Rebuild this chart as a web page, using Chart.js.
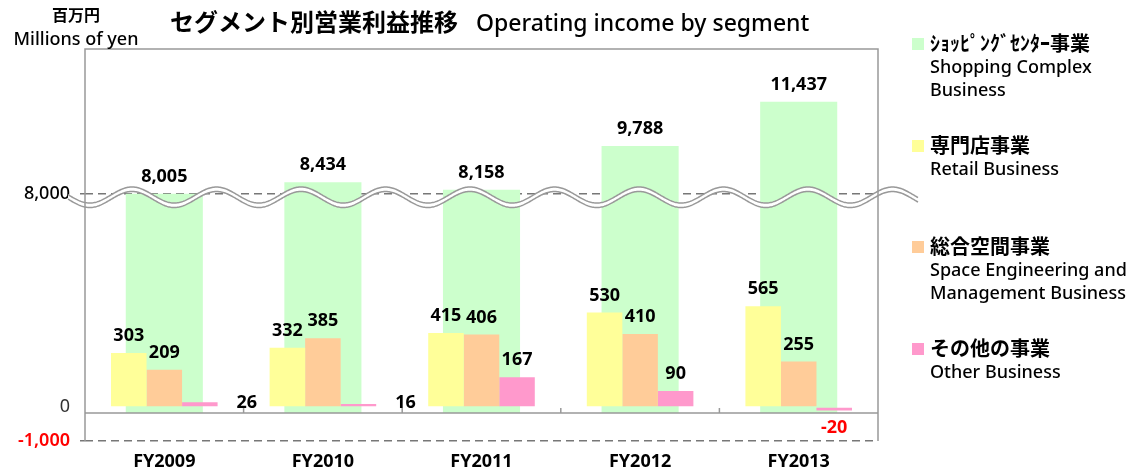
<!DOCTYPE html>
<html lang="ja">
<head>
<meta charset="utf-8">
<title>セグメント別営業利益推移</title>
<script src="https://cdn.jsdelivr.net/npm/chart.js@4.4.1/dist/chart.umd.min.js"></script>
<style>
  html, body { margin: 0; padding: 0; background: #fff; }
  body {
    width: 1147px; height: 472px; position: relative; overflow: hidden;
    font-family: "Noto Sans", "Noto Sans CJK JP", sans-serif; color: #000;
  }
  #wrap { position: absolute; left: 0; top: 0; width: 1147px; height: 472px; }
  .unit { position: absolute; left: 0; top: 2px; width: 152px; text-align: center; }
  .unit .ja { font-family: "Noto Sans CJK JP"; font-weight: 700; font-size: 16px; line-height: 24px; }
  .unit .en { font-size: 18px; line-height: 24px; font-weight: 500; }
  .title { position: absolute; left: 170px; top: 3px; white-space: nowrap; line-height: 36px; }
  .title .ja { font-family: "Noto Sans CJK JP"; font-weight: 700; font-size: 24px; }
  .title .en { font-size: 23px; margin-left: 18px; font-weight: 500; }
  #legend { position: absolute; left: 912px; top: 31px; }
  .item { position: relative; height: 101.5px; padding-left: 18px; }
  .item .box { position: absolute; left: 0; top: 7px; width: 12px; height: 12px; }
  .item .ja { font-family: "Noto Sans CJK JP"; font-weight: 700; font-size: 20px; line-height: 24px; white-space: nowrap; }
  .item .en { font-size: 18px; line-height: 22.5px; white-space: pre-line; font-weight: 500; }
</style>
</head>
<body>
<div id="wrap"><canvas id="chart"></canvas></div>
<div class="unit"><div class="ja">百万円</div><div class="en">Millions of yen</div></div>
<div class="title"><span class="ja">セグメント別営業利益推移</span><span class="en">Operating income by segment</span></div>
<div id="legend"></div>

<script>
// データ
const categories = ['FY2009', 'FY2010', 'FY2011', 'FY2012', 'FY2013'];
const shoppingComplex = [8005, 8434, 8158, 9788, 11437];
const retail = [303, 332, 415, 530, 565];
const spaceEngineering = [209, 385, 406, 410, 255];
const other = [26, 16, 167, 90, -20];
const yTicks = [-1000, 0, 8000];

const seriesJa = ['ｼｮｯﾋﾟﾝｸﾞｾﾝﾀｰ事業', '専門店事業', '総合空間事業', 'その他の事業'];
const seriesEn = ['Shopping Complex\nBusiness', 'Retail Business', 'Space Engineering and\nManagement Business', 'Other Business'];
const seriesColors = ['#ccffcc', '#ffff99', '#ffcc99', '#ff99cc'];

// 軸の切れ目
const BREAK_VALUE = 8000;
const AXIS_FLOOR = -34;

// 凡例（HTML）
const legendEl = document.getElementById('legend');
seriesJa.forEach((name, i) => {
  const item = document.createElement('div');
  item.className = 'item';
  item.innerHTML = '<span class="box" style="background:' + seriesColors[i] + '"></span>' +
    '<div class="ja">' + name + '</div><div class="en">' + seriesEn[i] + '</div>';
  legendEl.appendChild(item);
});

// 切れ目付きの縦軸（値 → 下端からの割合を区分線形で対応）
class BrokenLinearScale extends Chart.LinearScale {
  _frac(value) {
    const pts = this.options.breaks;
    if (value <= pts[0].value) return pts[0].at;
    for (let i = 1; i < pts.length; i++) {
      const a = pts[i - 1], b = pts[i];
      if (value <= b.value) {
        return a.at + (value - a.value) / (b.value - a.value) * (b.at - a.at);
      }
    }
    return pts[pts.length - 1].at;
  }
  getPixelForValue(value) {
    return this.bottom - this._frac(value) * (this.bottom - this.top);
  }
  getValueForPixel(pixel) {
    const f = (this.bottom - pixel) / (this.bottom - this.top);
    const pts = this.options.breaks;
    for (let i = 1; i < pts.length; i++) {
      const a = pts[i - 1], b = pts[i];
      if (f <= b.at) return a.value + (f - a.at) / (b.at - a.at) * (b.value - a.value);
    }
    return pts[pts.length - 1].value;
  }
}
BrokenLinearScale.id = 'brokenLinear';
BrokenLinearScale.defaults = Chart.LinearScale.defaults;
Chart.register(BrokenLinearScale);

// 波線・枠線
const breakFrame = {
  id: 'breakFrame',
  afterDatasetsDraw(chart) {
    const { ctx, chartArea: area, scales } = chart;
    const y = scales.y, x = scales.x;
    const yBreak = y.getPixelForValue(BREAK_VALUE) + 1;
    const amp = 8, period = 84.5, gap = 4.5, phase = 47;
    const x0 = area.left - 17, x1 = area.right + 40;
    const wave = (px) => yBreak - amp * Math.cos(2 * Math.PI * (px - area.left - phase) / period);

    ctx.save();
    ctx.beginPath();
    for (let px = x0; px <= x1; px++) {
      if (px === x0) ctx.moveTo(px, wave(px)); else ctx.lineTo(px, wave(px));
    }
    for (let px = x1; px >= x0; px--) ctx.lineTo(px, wave(px) + gap);
    ctx.closePath();
    ctx.fillStyle = '#fff';
    ctx.fill();

    ctx.strokeStyle = '#999';
    ctx.lineWidth = 1.5;
    [0, gap].forEach(off => {
      ctx.beginPath();
      for (let px = x0; px <= x1; px++) {
        if (px === x0) ctx.moveTo(px, wave(px) + off); else ctx.lineTo(px, wave(px) + off);
      }
      ctx.stroke();
    });

    // 枠
    ctx.beginPath();
    ctx.moveTo(area.left, area.bottom);
    ctx.lineTo(area.left, area.top);
    ctx.lineTo(area.right, area.top);
    ctx.lineTo(area.right, area.bottom);
    ctx.stroke();

    // ゼロ付近の横軸線と目盛
    const yFloor = y.getPixelForValue(AXIS_FLOOR);
    ctx.beginPath();
    ctx.moveTo(area.left, yFloor);
    ctx.lineTo(area.right, yFloor);
    for (let i = 1; i < categories.length; i++) {
      const bx = (x.getPixelForValue(i - 1) + x.getPixelForValue(i)) / 2;
      ctx.moveTo(bx, yFloor);
      ctx.lineTo(bx, yFloor - 5);
    }
    ctx.stroke();
    ctx.restore();
  }
};

// 値ラベル
const valueLabels = {
  id: 'valueLabels',
  afterDatasetsDraw(chart) {
    const ctx = chart.ctx;
    ctx.save();
    ctx.font = 'bold 18px "Noto Sans"';
    ctx.textAlign = 'center';
    ctx.textBaseline = 'middle';
    chart.data.datasets.forEach((ds, i) => {
      const meta = chart.getDatasetMeta(i);
      meta.data.forEach((bar, j) => {
        const v = ds.data[j];
        let lx = bar.x, ly = Math.min(bar.y, bar.base) - 17;
        ctx.fillStyle = '#000';
        if (v < 0) {
          ly = bar.base + 20;
          ctx.fillStyle = '#ff0000';
        } else if (v < 50) {
          lx = bar.x + 47;
          ly = bar.base - 3;
        }
        ctx.fillText(v.toLocaleString('en-US'), lx, ly);
      });
    });
    ctx.restore();
  }
};

const ctx = document.getElementById('chart');
new Chart(ctx, {
  type: 'bar',
  data: {
    labels: categories,
    datasets: [{
      label: seriesJa[0],
      data: shoppingComplex,
      backgroundColor: seriesColors[0],
      grouped: false,
      base: AXIS_FLOOR,
      order: 1,
      categoryPercentage: 0.486,
      barPercentage: 1.0
    }, {
      label: seriesJa[1],
      data: retail,
      backgroundColor: seriesColors[1],
      categoryPercentage: 0.672,
      barPercentage: 1.0
    }, {
      label: seriesJa[2],
      data: spaceEngineering,
      backgroundColor: seriesColors[2],
      categoryPercentage: 0.672,
      barPercentage: 1.0
    }, {
      label: seriesJa[3],
      data: other,
      backgroundColor: seriesColors[3],
      categoryPercentage: 0.672,
      barPercentage: 1.0
    }]
  },
  options: {
    responsive: true,
    maintainAspectRatio: false,
    animation: false,
    devicePixelRatio: 1,
    layout: { padding: { top: 49, right: 269, bottom: 0, left: 0 } },
    plugins: {
      legend: { display: false },
      tooltip: { enabled: false },
      title: { display: false }
    },
    scales: {
      x: {
        type: 'category',
        offset: true,
        grid: { display: false, drawTicks: false },
        border: { display: false },
        ticks: {
          padding: 10,
          color: '#000',
          font: { family: '"Noto Sans"', size: 18, weight: 'bold' }
        },
        afterFit(scale) { scale.height = 31; }
      },
      y: {
        type: 'brokenLinear',
        min: -1000,
        max: 13400,
        breaks: [
          { value: -1000, at: 0 },
          { value: AXIS_FLOOR, at: 28 / 392 },
          { value: 1100, at: 230 / 392 },
          { value: BREAK_VALUE, at: 247 / 392 },
          { value: 13400, at: 1 }
        ],
        afterBuildTicks(scale) {
          scale.ticks = yTicks.map(v => ({ value: v }));
        },
        afterFit(scale) { scale.width = 85; },
        grid: {
          color: (c) => (c.tick && c.tick.value === 0) ? 'rgba(0,0,0,0)' : '#777',
          lineWidth: 1.5,
          tickLength: 5,
          tickBorderDash: []
        },
        border: { display: false, dash: [8, 5] },
        ticks: {
          padding: 10,
          color: (c) => (c.tick && c.tick.value < 0) ? '#ff0000' : (c.tick && c.tick.value === 0 ? '#333' : '#000'),
          font: (c) => ({
            family: '"Noto Sans"',
            size: 18,
            weight: (c.tick && c.tick.value < 0) ? '600' : ((c.tick && c.tick.value === 0) ? 'normal' : '500')
          }),
          callback: (v) => Number(v).toLocaleString('en-US')
        }
      }
    }
  },
  plugins: [breakFrame, valueLabels]
});
</script>
</body>
</html>
